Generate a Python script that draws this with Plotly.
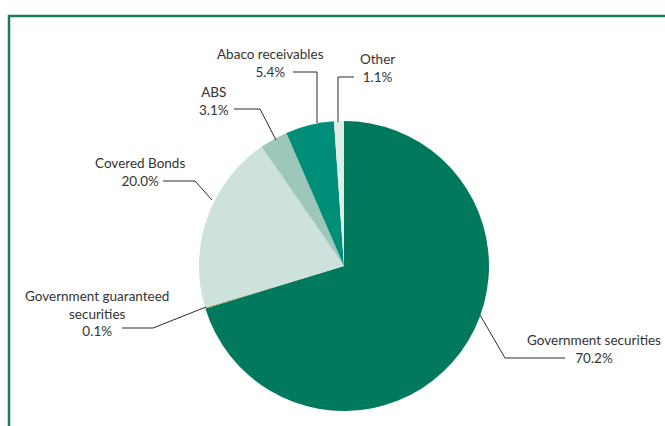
import plotly.graph_objects as go

labels = ["Government securities", "Government guaranteed securities", "Covered Bonds",
          "ABS", "Abaco receivables", "Other"]
label_text = ["Government securities", "Government guaranteed<br>securities", "Covered Bonds",
              "ABS", "Abaco receivables", "Other"]
values = [70.2, 0.1, 20.0, 3.1, 5.4, 1.1]
colors = ["#00795d", "#b5a560", "#cde2dc", "#9dc7b9", "#008e78", "#e0ece8"]

W, H = 665, 426

def px(x):
    return x / W

def py(y):
    return 1 - y / H

fig = go.Figure(go.Pie(
    labels=labels, values=values, sort=False, direction="clockwise", rotation=0,
    marker=dict(colors=colors, line=dict(width=0)),
    textinfo="none", hoverinfo="label+percent", showlegend=False,
    domain=dict(x=[px(199), px(489)], y=[py(411), py(121)]),
))

# label placement (pixel positions) and leader polylines
label_pos = {
    "Government securities": (594, 349),
    "Government guaranteed securities": (97, 313),
    "Covered Bonds": (140, 172),
    "ABS": (214, 101),
    "Abaco receivables": (270, 63),
    "Other": (377, 68),
}
leaders = {
    "Government securities": [(565, 358), (505, 358), (480, 315)],
    "Government guaranteed securities": [(122, 328), (153, 328), (206, 307)],
    "Covered Bonds": [(163, 181), (195, 181), (212, 200)],
    "ABS": [(234, 109), (260, 109), (276, 140)],
    "Abaco receivables": [(293, 72), (317, 72), (317, 123)],
    "Other": [(354, 77), (338, 77), (338, 122)],
}

annotations = []
shapes = []
for lab, txt, v in zip(labels, label_text, values):
    x, y = label_pos[lab]
    annotations.append(dict(
        x=px(x), y=py(y), xref="paper", yref="paper", showarrow=False,
        text=f"{txt}<br>{v:.1f}%", align="center",
        font=dict(family="Lato, sans-serif", size=13.5, color="#333333"),
        xanchor="center", yanchor="middle",
    ))
    pts = leaders[lab]
    path = "M " + " L ".join(f"{px(a)},{py(b)}" for a, b in pts)
    shapes.append(dict(type="path", path=path, xref="paper", yref="paper",
                       line=dict(color="#2b2b2b", width=1)))

# green frame (top and left edges)
shapes.append(dict(type="line", xref="paper", yref="paper",
                   x0=px(8), x1=1, y0=py(16), y1=py(16),
                   line=dict(color="#1a7a5f", width=2.5)))
shapes.append(dict(type="line", xref="paper", yref="paper",
                   x0=px(9), x1=px(9), y0=py(15), y1=0,
                   line=dict(color="#1a7a5f", width=2.5)))

fig.update_layout(
    width=W, height=H, margin=dict(l=0, r=0, t=0, b=0),
    paper_bgcolor="white", plot_bgcolor="white",
    annotations=annotations, shapes=shapes,
)

fig.write_html("out.html")
